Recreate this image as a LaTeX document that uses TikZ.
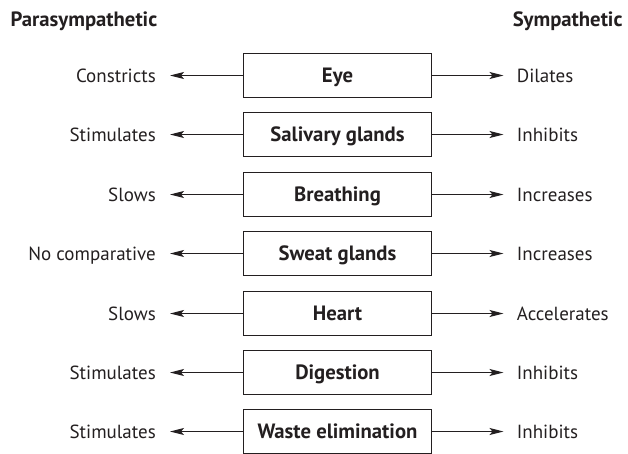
\documentclass[tikz,border=0pt]{standalone}
\usepackage{fontspec}
\setmainfont{PT Sans}
\usetikzlibrary{arrows.meta}
\definecolor{ink}{HTML}{231F20}
\tikzset{
  organ/.style={draw=ink, line width=1.5pt, minimum width=188pt, minimum height=43.7pt, inner sep=0pt, text height=14.6pt, text depth=0pt, font=\fontsize{20.7}{22}\selectfont\bfseries, text=ink},
  para/.style={anchor=base east, inner sep=0pt, font=\fontsize{19}{21}\selectfont, text=ink},
  symp/.style={anchor=base west, inner sep=0pt, font=\fontsize{19}{21}\selectfont, text=ink},
  head/.style={inner sep=0pt, font=\fontsize{20.7}{22}\selectfont\bfseries, text=ink},
  conn/.style={draw=ink, line width=1.2pt, -{Stealth[length=14pt, width=7pt, inset=3pt]}}
}
\begin{document}
\begin{tikzpicture}[x=1pt,y=-1pt]
\useasboundingbox (0,0) rectangle (628,453);
\clip (0,0) rectangle (628,453);
\node[head, anchor=base west] (hp) at (10.5,26) {Parasympathetic};
\node[head, anchor=base east] (hs) at (622.7,26) {Sympathetic};
\foreach \i/\organ/\pa/\sy in {
  0/Eye/Constricts/Dilates,
  1/Salivary glands/Stimulates/Inhibits,
  2/Breathing/Slows/Increases,
  3/Sweat glands/No comparative/Increases,
  4/Heart/Slows/Accelerates,
  5/Digestion/Stimulates/Inhibits,
  6/Waste elimination/Stimulates/Inhibits}{
  \pgfmathsetmacro{\yy}{round(76+59.4*\i)-0.5}
  \pgfmathsetmacro{\yb}{\yy+7}
  \node[organ] (o\i) at (337.5,\yy) {\organ};
  \node[para] (p\i) at (156,\yb) {\pa};
  \node[symp] (s\i) at (516.7,\yb) {\sy};
  \coordinate (lt\i) at (170,\yy);
  \coordinate (rt\i) at (503.5,\yy);
  \draw[conn] (o\i.west) -- (lt\i);
  \draw[conn] (o\i.east) -- (rt\i);
}
\end{tikzpicture}
\end{document}
